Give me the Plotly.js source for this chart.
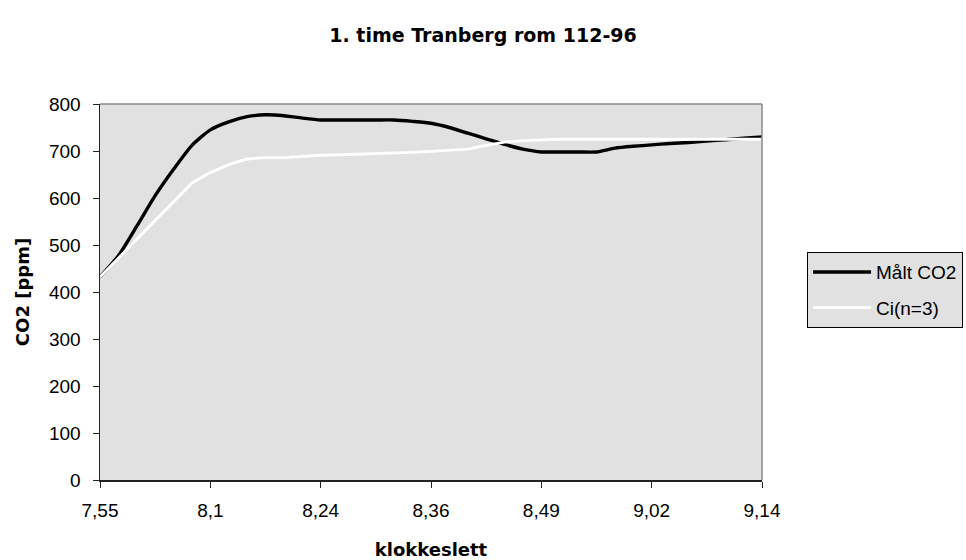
<!DOCTYPE html>
<html>
<head>
<meta charset="utf-8">
<script src="https://cdn.plot.ly/plotly-3.0.1.min.js"></script>
<style>
html,body{margin:0;padding:0;background:#fff;}
#chart{width:966px;height:560px;}
</style>
</head>
<body>
<div id="chart"></div>
<script>
// Tick labels (time of day) shown every 6th measurement
const tickLabels = ['7,55', '8,1', '8,24', '8,36', '8,49', '9,02', '9,14'];
const labelEvery = 6;

// Measured CO2 [ppm]
const maltCO2 = [432, 477, 540, 605, 661, 712, 745, 762, 773, 777, 775, 770, 766,
  766, 766, 766, 766, 763, 759, 750, 738, 726, 714, 704, 698, 698, 698, 698,
  706, 710, 713, 716, 718, 721, 724, 727, 730];

// Calculated Ci(n=3) [ppm]
const ciN3 = [432, 472, 512, 552, 592, 632, 654, 671, 683, 686, 686, 689, 691,
  692, 693, 694, 695, 697, 699, 701, 704, 712, 719, 722, 724, 725, 725, 725,
  725, 725, 725, 725, 725, 725, 725, 725, 725];

const idx = maltCO2.map((_, i) => i);
const tickvals = tickLabels.map((_, i) => i * labelEvery);

const fontA = 'Liberation Sans, Arial, sans-serif';
const fontB = 'DejaVu Sans, Verdana, sans-serif';

const traces = [
  {x: idx, y: maltCO2, name: 'Målt CO2', type: 'scatter', mode: 'lines',
   line: {color: '#000000', width: 3.4, shape: 'spline', smoothing: 0.6}, legendgroup: 'a'},
  {x: idx, y: ciN3, name: 'Ci(n=3)', type: 'scatter', mode: 'lines',
   line: {color: '#ffffff', width: 2.8}, legendgroup: 'b'}
];

const layout = {
  width: 966, height: 560,
  margin: {l: 100, r: 204, t: 104, b: 80, autoexpand: false},
  paper_bgcolor: '#ffffff',
  plot_bgcolor: '#e1e1e1',
  font: {family: fontA, size: 19, color: '#000'},
  title: {text: '<b>1. time Tranberg rom 112-96</b>', font: {family: fontB, size: 19, color: '#000'},
          x: 0.5, xanchor: 'center', y: 0.937, yanchor: 'middle'},
  showlegend: true,
  legend: {x: 1.068, xanchor: 'left', y: 0.606, yanchor: 'top',
           bgcolor: '#e1e1e1', bordercolor: '#000', borderwidth: 1,
           font: {family: fontA, size: 19, color: '#000'},
           traceorder: 'grouped', tracegroupgap: 8, itemwidth: 58},
  xaxis: {
    range: [0, 36], tickvals: tickvals, ticktext: tickLabels,
    showgrid: false, zeroline: false,
    showline: true, linecolor: '#222', linewidth: 1.5,
    ticks: 'outside', ticklen: 6, tickcolor: '#222', tickwidth: 1,
    ticklabelstandoff: 7,
    tickfont: {family: fontA, size: 19, color: '#000'},
    title: {text: '<b>klokkeslett</b>', font: {family: fontB, size: 18, color: '#000'}, standoff: 25},
    fixedrange: true
  },
  yaxis: {
    range: [0, 800], dtick: 100, tick0: 0,
    showgrid: false, zeroline: false,
    showline: true, linecolor: '#222', linewidth: 1.5,
    ticks: 'outside', ticklen: 6, tickcolor: '#222', tickwidth: 1,
    ticklabelstandoff: 8,
    tickfont: {family: fontA, size: 19, color: '#000'},
    title: {text: '<b>CO2 [ppm]</b>', font: {family: fontB, size: 18, color: '#000'}, standoff: 14},
    fixedrange: true
  },
  shapes: [
    {type: 'line', xref: 'paper', yref: 'paper', x0: 0, x1: 1, y0: 1, y1: 1,
     line: {color: '#888', width: 1.5}},
    {type: 'line', xref: 'paper', yref: 'paper', x0: 1, x1: 1, y0: 0, y1: 1,
     line: {color: '#888', width: 1.5}}
  ]
};

Plotly.newPlot('chart', traces, layout, {displayModeBar: false, staticPlot: true});
</script>
</body>
</html>
